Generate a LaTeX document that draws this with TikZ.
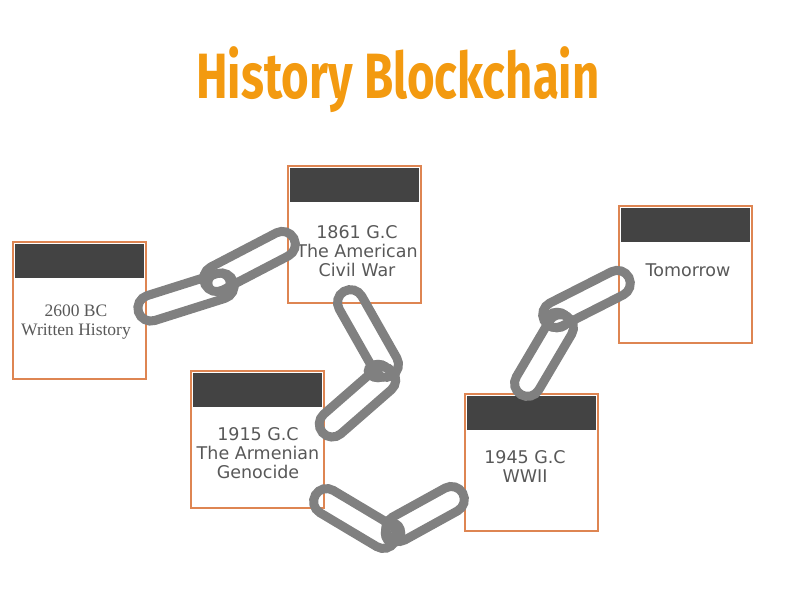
\documentclass[tikz,border=0pt]{standalone}
\usepackage{fontspec}
\newfontfamily\bodysans{DejaVu Sans}
\newfontfamily\bodyserif{Liberation Serif}
\newfontfamily\titlesans{Fira Sans}
\usetikzlibrary{
    calc,
    positioning,
    shapes.misc
}
\definecolor{boxorange}{RGB}{222,133,82}
\definecolor{headgray}{RGB}{67,67,67}
\definecolor{linkgray}{RGB}{128,128,128}
\definecolor{textgray}{RGB}{88,88,88}
\definecolor{titleorange}{RGB}{243,154,16}

% one link of the chain, from cap centre #2 to cap centre #3
\newcommand{\chainlink}[3]{%
  \path let \p1=($(#3)-(#2)$), \n1={atan2(\y1,\x1)}, \n2={veclen(\x1,\y1)+20} in
    node[link, rotate=\n1, minimum width=\n2] (#1) at ($(#2)!0.5!(#3)$) {};
}

\begin{document}
\begin{tikzpicture}[x=1pt, y=-1pt,
    eventbox/.style={draw=boxorange, line width=2pt, minimum width=133pt, minimum height=137pt, inner sep=0pt},
    headbar/.style={fill=headgray, minimum width=129pt, minimum height=34pt, inner sep=0pt},
    sanslbl/.style={text=textgray, font=\bodysans\fontsize{17.5}{19}\selectfont, align=center},
    seriflbl/.style={text=textgray, font=\bodyserif\fontsize{17.5}{19}\selectfont, align=center},
    link/.style={rounded rectangle, draw=linkgray, line width=9pt, minimum height=26pt, inner sep=0pt},
    ring/.style={draw=linkgray, line width=6.5pt}
]
\useasboundingbox (0,0) rectangle (800,600);

% Title
\node[text=titleorange, font=\titlesans\bfseries\fontsize{64}{64}\selectfont] (title) at (398,80)
    {\scalebox{0.74}[1]{History Blockchain}};

% Boxes
\node[eventbox] (b1) at (79.5,310.5) {};
\node[eventbox] (b2) at (354,234.5) {};
\node[eventbox] (b3) at (257,439) {};
\node[eventbox] (b4) at (531.5,462) {};
\node[eventbox] (b5) at (685.5,274) {};

% Header bars
\node[headbar, below=3pt of b1.north] (h1) {};
\node[headbar, below=3pt of b2.north] (h2) {};
\node[headbar, below=3pt of b3.north] (h3) {};
\node[headbar, below=3pt of b4.north] (h4) {};
\node[headbar, below=3pt of b5.north] (h5) {};

% Labels
\node[seriflbl] (t1) at (76,322) {2600 BC\\Written History};
\node[sanslbl] (t2) at (357,251) {1861 G.C\\The American\\Civil War};
\node[sanslbl] (t3) at (258,453) {1915 G.C\\The Armenian\\Genocide};
\node[sanslbl] (t4) at (525,466) {1945 G.C\\WWII};
\node[sanslbl] (t5) at (688,270) {Tomorrow};

% Chain ends
\coordinate (c1a) at (148,309);
\coordinate (c1b) at (224,285);
\coordinate (c2a) at (214,280);
\coordinate (c2b) at (285,243);
\coordinate (c3a) at (349,300);
\coordinate (c3b) at (387,367);
\coordinate (c4a) at (385,378);
\coordinate (c4b) at (330,426);
\coordinate (c5a) at (324,500);
\coordinate (c5b) at (386,537);
\coordinate (c6a) at (396,530);
\coordinate (c6b) at (454,498);
\coordinate (c7a) at (526,386);
\coordinate (c7b) at (562,325);
\coordinate (c8a) at (553,316);
\coordinate (c8b) at (620,282);

% Links
\chainlink{l1}{c1a}{c1b}
\chainlink{l2}{c2a}{c2b}
\chainlink{l3}{c3a}{c3b}
\chainlink{l4}{c4a}{c4b}
\chainlink{l5}{c5a}{c5b}
\chainlink{l6}{c6a}{c6b}
\chainlink{l7}{c7a}{c7b}
\chainlink{l8}{c8a}{c8b}

% Rings
\draw[ring] (219,283) ellipse (10 and 9);
\draw[ring] (378,371) ellipse (11 and 8);
\draw[ring] (393,533) ellipse (9 and 11);
\draw[ring] (557,320) ellipse (12 and 9);

\end{tikzpicture}
\end{document}
